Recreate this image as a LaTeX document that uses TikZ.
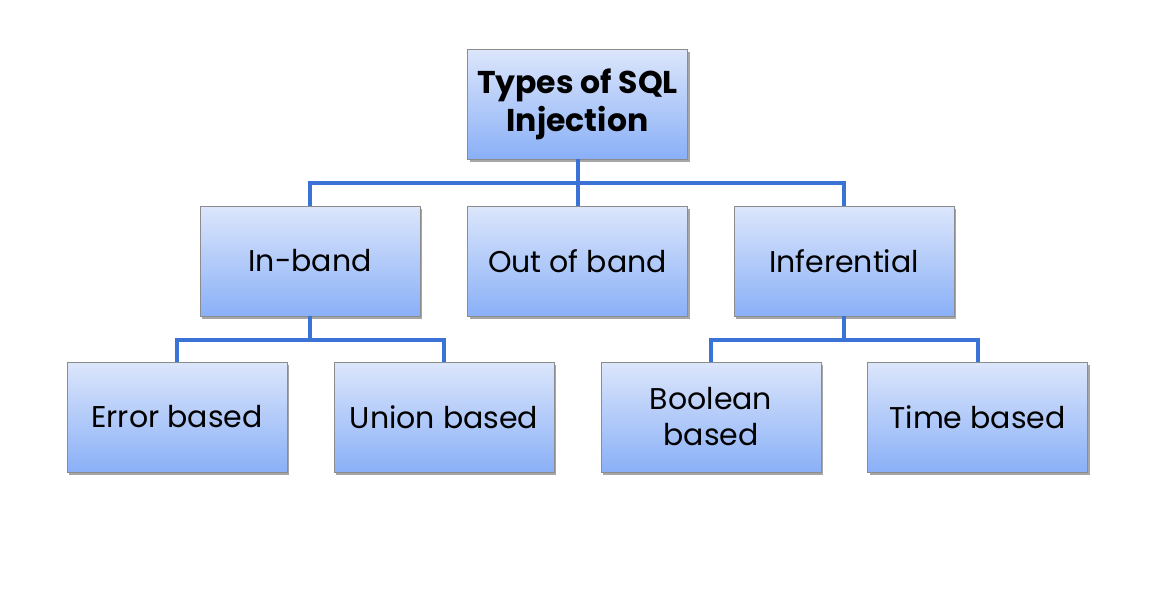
\documentclass[tikz,border=0pt]{standalone}
\usepackage{fontspec}
\setmainfont{Poppins}
\usetikzlibrary{shadows}
\definecolor{boxtop}{HTML}{DCE6FB}
\definecolor{boxbot}{HTML}{8AB0F7}
\definecolor{boxedge}{HTML}{8C8C8C}
\definecolor{linkc}{HTML}{3A72D6}
\begin{document}
\begin{tikzpicture}[x=1pt,y=-1pt,
  box/.style={draw=boxedge, line width=0.8pt, top color=boxtop, bottom color=boxbot,
    minimum width=220pt, minimum height=110pt, align=center, inner sep=1pt,
    font=\fontsize{30}{36}\selectfont,
    drop shadow={shadow xshift=2pt, shadow yshift=-3pt, opacity=0.35, fill=black}},
  link/.style={draw=linkc, line width=4pt}]
\useasboundingbox (0,0) rectangle (1168,595);
\node[box, font=\fontsize{31.5}{38}\selectfont\bfseries] (root) at (577.5,104) {Types of SQL\\Injection};
\node[box] (inband) at (310,261) {In-band};
\node[box] (oob) at (577.5,261) {Out of band};
\node[box] (infer) at (844,261) {Inferential};
\node[box] (err) at (177,417) {Error based};
\node[box] (union) at (444,417) {Union based};
\node[box] (bool) at (711,417) {Boolean\\based};
\node[box] (time) at (977.5,417) {Time based};
\coordinate (b1) at (577.5,183);
\coordinate (b2) at (310,340);
\coordinate (b3) at (844,340);
\draw[link] (root.south) -- (b1);
\draw[link] (b1) -| (inband.north);
\draw[link] (b1) -| (infer.north);
\draw[link] (b1) -- (oob.north);
\draw[link] (inband.south) -- (b2);
\draw[link] (b2) -| (err.north);
\draw[link] (b2) -| (union.north);
\draw[link] (infer.south) -- (b3);
\draw[link] (b3) -| (bool.north);
\draw[link] (b3) -| (time.north);
\end{tikzpicture}
\end{document}
